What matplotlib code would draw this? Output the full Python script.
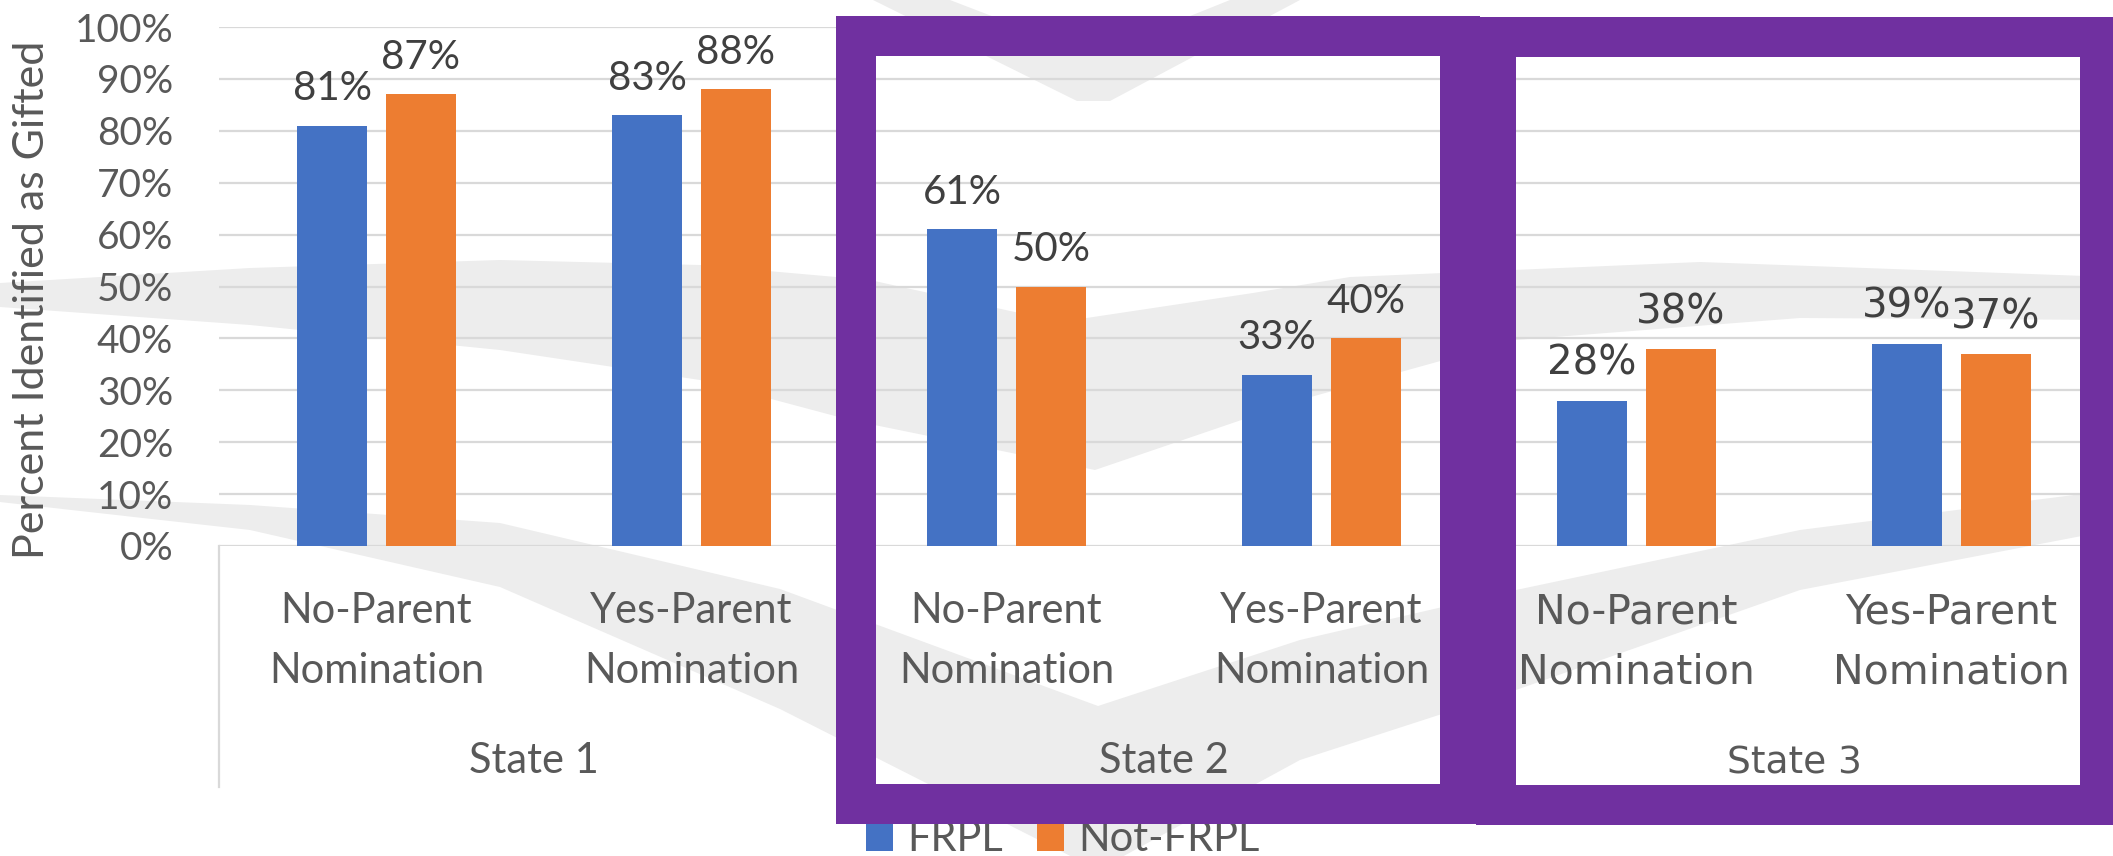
import matplotlib.pyplot as plt
import matplotlib.transforms as mtransforms
from matplotlib.patches import Rectangle, Polygon
from matplotlib.lines import Line2D
import numpy as np

W, H, DPI = 2113, 856, 100

# data
states = ['State 1', 'State 2', 'State 3']
nominations = ['No-Parent', 'Yes-Parent']
frpl = [81, 83, 61, 33, 28, 39]
not_frpl = [87, 88, 50, 40, 38, 37]
series_names = ['FRPL', 'Not-FRPL']
yticks = list(range(0, 101, 10))

blue = '#4472C4'
orange = '#ED7D31'
purple = '#7030A0'
grid_c = '#D9D9D9'
text_c = '#595959'
label_c = '#404040'
mark_c = '#EDEDED'

plt.rcParams['font.family'] = ['Lato', 'DejaVu Sans']
narrow = ['Lato', 'DejaVu Sans']
wide = ['DejaVu Sans']


def fx(x):
    return x / W


def fy(y):
    return 1 - y / H


fig = plt.figure(figsize=(W / DPI, H / DPI), dpi=DPI, facecolor='white')

# faint chevron logo behind the chart
logo_bands = [
    [(873, 0), (1077, 101), (1110, 101), (1300, 0), (1230, 0), (1093, 55), (950, 0)],
    [(0, 283), (250, 268), (500, 260), (700, 265), (870, 280), (1060, 322), (1253, 293),
     (1350, 277), (1700, 262), (2113, 277),
     (2113, 320), (1800, 318), (1516, 340), (1300, 400), (1095, 470), (850, 420),
     (700, 380), (500, 350), (250, 325), (0, 307)],
    [(0, 495), (250, 505), (500, 523), (780, 589), (1098, 706), (1300, 640), (1516, 590),
     (1800, 530), (2113, 490),
     (2113, 530), (1800, 590), (1516, 690), (1300, 760), (1098, 870), (780, 709),
     (500, 587), (250, 530), (0, 502)],
]
for band in logo_bands:
    pts = [(fx(x), fy(y)) for x, y in band]
    fig.add_artist(Polygon(pts, closed=True, transform=fig.transFigure,
                           facecolor=mark_c, edgecolor='none', zorder=-5))

ax = fig.add_axes([fx(219), fy(546), fx(2109) - fx(219), fy(27) - fy(546)])
ax.set_facecolor('none')
ax.set_zorder(1)

x = np.arange(len(frpl))
bw, off = 0.222, 0.141
ax.bar(x - off, frpl, width=bw, color=blue, zorder=3)
ax.bar(x + off, not_frpl, width=bw, color=orange, zorder=3)

ax.set_xlim(-0.5, len(frpl) - 0.5)
ax.set_ylim(0, 100)
ax.set_yticks(yticks)
ax.set_yticklabels([f'{t}%' for t in yticks], fontsize=28, color=text_c)
ax.tick_params(axis='y', length=0, pad=33)
ax.set_xticks([])
ax.yaxis.grid(True, color=grid_c, linewidth=1.6, zorder=0)
ax.set_axisbelow(True)
for s in ax.spines.values():
    s.set_visible(False)

# value labels; the third state was typeset in a wider face
for i in range(len(frpl)):
    fam, size = (wide, 29) if i >= 4 else (narrow, 29)
    for xx, v in ((x[i] - off, frpl[i]), (x[i] + off, not_frpl[i])):
        ax.annotate(f'{v}%', (xx, v), xytext=(0, 18.5), textcoords='offset points',
                    ha='center', va='baseline', fontsize=size, color=label_c,
                    family=fam)

# two-level category axis
tr = mtransforms.blended_transform_factory(ax.transData, fig.transFigure)
for i in range(len(frpl)):
    fam, size = (wide, 29.5) if i >= 4 else (narrow, 30)
    ax.text(x[i], fy(623), nominations[i % 2], transform=tr, ha='center',
            va='baseline', fontsize=size, color=text_c, family=fam, clip_on=False)
    ax.text(x[i], fy(683), 'Nomination', transform=tr, ha='center',
            va='baseline', fontsize=size, color=text_c, family=fam, clip_on=False)
for j, st in enumerate(states):
    fam, size = (wide, 27) if j == 2 else (narrow, 30)
    ax.text(2 * j + 0.5, fy(773), st, transform=tr, ha='center', va='baseline',
            fontsize=size, color=text_c, family=fam, clip_on=False)

for sx in (219, 849, 1479):
    fig.add_artist(Line2D([fx(sx), fx(sx)], [fy(546), fy(787)],
                          transform=fig.transFigure, color=grid_c, lw=1.6, zorder=2))

fig.text(fx(32), fy(300), 'Percent Identified as Gifted', rotation=90,
         ha='center', va='center', fontsize=31, color=text_c)

# legend (its upper part sits under the highlight frame)
for (sq_x, tx_x), name, col in zip(((866, 907), (1037, 1078)), series_names, (blue, orange)):
    fig.add_artist(Rectangle((fx(sq_x), fy(851)), 27 / W, 27 / H,
                             transform=fig.transFigure, facecolor=col,
                             edgecolor='none', zorder=4))
    fig.text(fx(tx_x), fy(851), name, ha='left', va='baseline', fontsize=30,
             color=text_c, zorder=4)

# purple highlight frames around State 2 and State 3
for x0, y0, x1, y1 in ((856, 36, 1460, 804), (1496, 37, 2100, 805)):
    fig.add_artist(Rectangle((fx(x0), fy(y1)), (x1 - x0) / W, (y1 - y0) / H,
                             transform=fig.transFigure, fill=False,
                             edgecolor=purple, linewidth=40 * 72 / DPI,
                             joinstyle='miter', zorder=10))

fig.savefig('out.png', dpi=DPI, facecolor='white')
